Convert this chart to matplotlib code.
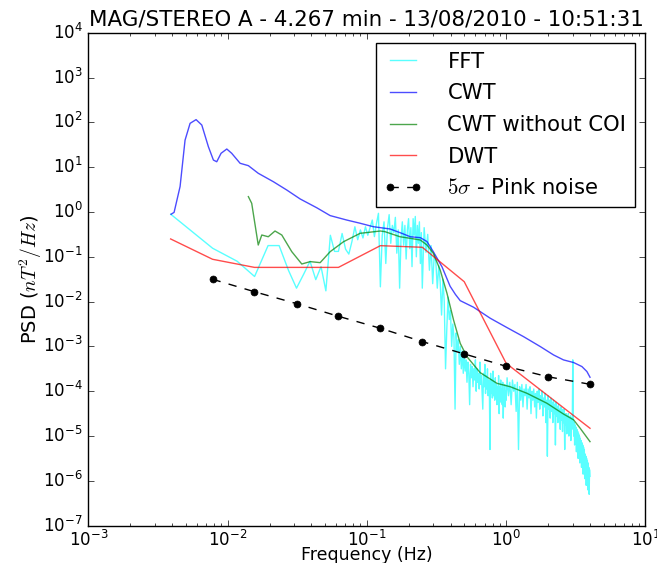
import numpy as np
import matplotlib.pyplot as plt
from matplotlib.ticker import LogLocator, NullLocator

plt.style.use('classic')

# FFT bins, df = 1/256 Hz (4.267 min window at 8 Hz)
bins_a = np.arange(1, 65)
bins_b = np.arange(66, 257, 2)
bins_c = np.arange(260, 1024, 6)

# log10 of the FFT PSD for each bin group
fft_log_a = [-0.05, -0.81, -1.10, -1.44, -0.75, -0.75, -1.30, -1.70,
             -1.39, -1.10, -1.51, -1.22, -1.76, -0.52, -0.88, -0.88,
             -0.48, -0.83, -0.94, -0.66, -0.33, -0.62, -0.40, -0.58,
             -0.33, -0.52, -0.35, -0.18, -0.55, -0.26, -0.03, -1.67,
             -0.52, -0.22, -1.15, -0.35, -0.06, -0.70, -0.30, -0.46,
             -0.12, -0.92, -0.40, -1.70, -0.60, -0.22, -0.74, -0.30,
             -1.05, -0.40, -0.15, -0.82, -0.35, -1.22, -0.15, -0.52,
             -0.10, -1.00, -0.30, -0.70, -0.22, -1.15, -0.46, -1.70]
fft_log_b = [-0.35, -0.90, -0.50, -1.30, -0.75, -1.60, -0.95, -1.10,
             -1.70, -1.20, -1.55, -2.30, -1.50, -2.00, -3.50, -2.60,
             -1.90, -2.40, -2.20, -3.00, -2.50, -2.80, -4.40, -2.70,
             -3.10, -2.85, -3.40, -3.00, -3.50, -3.10, -3.60, -3.20,
             -3.55, -3.30, -3.80, -3.35, -3.60, -4.30, -3.40, -3.70,
             -3.45, -3.90, -3.50, -3.75, -3.30, -4.00, -3.50, -3.80,
             -3.60, -3.95, -3.35, -3.85, -3.65, -4.00, -4.40, -3.60,
             -3.90, -3.40, -4.05, -3.65, -3.95, -3.50, -4.10, -3.75,
             -4.00, -5.30, -3.60, -4.05, -3.75, -4.15, -3.55, -4.10,
             -3.80, -4.20, -3.70, -4.15, -3.85, -4.30, -3.90, -4.10,
             -3.65, -4.50, -3.90, -4.20, -3.75, -4.25, -3.95, -4.30,
             -3.80, -4.60, -4.00, -4.20, -3.85, -4.35, -4.00, -4.20]
fft_log_c = [-3.70, -4.10, -3.80, -4.30, -3.75, -4.00, -3.85, -4.45,
             -3.80, -5.30, -3.90, -4.20, -3.85, -4.35, -3.95, -4.10,
             -3.85, -4.40, -3.95, -4.15, -3.90, -4.50, -4.00, -4.20,
             -3.95, -4.35, -4.05, -4.60, -4.00, -4.25, -3.95, -4.40,
             -4.10, -4.30, -4.00, -4.55, -4.15, -4.35, -4.05, -4.70,
             -4.20, -5.45, -4.10, -4.40, -4.20, -4.60, -4.15, -4.45,
             -4.25, -4.70, -4.20, -4.50, -4.30, -5.20, -4.25, -4.55,
             -4.35, -4.70, -4.30, -4.60, -4.40, -4.85, -4.35, -4.65,
             -4.40, -4.90, -4.45, -4.70, -4.40, -5.30, -4.50, -4.75,
             -4.50, -4.95, -4.55, -4.80, -4.50, -5.00, -4.60, -4.85,
             -4.55, -5.10, -4.60, -4.85, -4.70, -3.30, -4.65, -5.00,
             -4.70, -5.20, -4.75, -5.00, -4.80, -5.35, -4.85, -5.10,
             -4.90, -5.50, -4.95, -5.20, -5.00, -5.60, -5.05, -5.35,
             -5.10, -5.70, -5.15, -5.45, -5.20, -5.85, -5.25, -5.55,
             -5.30, -5.95, -5.40, -5.70, -5.45, -6.10, -5.50, -5.80,
             -5.55, -6.20, -5.60, -5.90, -5.70, -6.30, -5.75, -5.90]

cwt_freq = [0.00393, 0.00413, 0.00456, 0.00495, 0.00538, 0.00594, 0.00653,
            0.00728, 0.00791, 0.00836, 0.00898, 0.00987, 0.0107, 0.0123,
            0.0141, 0.0166, 0.0213, 0.0266, 0.0332, 0.0437, 0.0545, 0.0718,
            0.0895, 0.111, 0.147, 0.178, 0.205, 0.242, 0.27, 0.30, 0.346,
            0.396, 0.432, 0.468, 0.583, 0.769, 1.014, 1.334, 1.76, 2.19,
            2.58, 3.05, 3.5, 3.8, 4.0]
cwt_psd = [0.89, 0.98, 3.7, 40, 95, 115, 87, 28.6, 14.4, 13.2, 20.4, 25.4,
           20.4, 12.2, 10.8, 7.3, 4.74, 3.09, 1.95, 1.24, 0.83, 0.66, 0.56,
           0.47, 0.417, 0.334, 0.28, 0.267, 0.219, 0.13, 0.060, 0.022,
           0.0145, 0.0105, 0.0075, 0.00425, 0.00263, 0.00165, 0.00099,
           0.000645, 0.0005, 0.000437, 0.000355, 0.000275, 0.000205]

coi_freq = [0.0141, 0.0149, 0.0166, 0.0176, 0.0196, 0.0219, 0.0245, 0.0289,
            0.0341, 0.0392, 0.0462, 0.0545, 0.068, 0.0895, 0.125, 0.135,
            0.173, 0.205, 0.242, 0.27, 0.30, 0.336, 0.376, 0.419, 0.468,
            0.523, 0.651, 0.859, 1.07, 1.41, 1.96, 2.58, 3.05, 3.4, 4.0]
coi_psd = [2.2, 1.56, 0.183, 0.306, 0.28, 0.376, 0.306, 0.13, 0.069, 0.078,
           0.074, 0.13, 0.217, 0.334, 0.376, 0.363, 0.28, 0.258, 0.237,
           0.183, 0.12, 0.0507, 0.0153, 0.0039, 0.00117, 0.00059, 0.00026,
           0.00015, 0.000126, 0.00009, 0.000054, 0.000031, 0.000023,
           0.0000149, 0.0000075]

dwt_freq = [0.0039, 0.0078, 0.0156, 0.0313, 0.0625, 0.125, 0.25, 0.5, 1.0,
            2.0, 4.0]
dwt_psd = [0.25, 0.088, 0.058, 0.058, 0.058, 0.177, 0.163, 0.0278, 0.00042,
           0.000079, 0.0000149]

pink_freq = [0.0078, 0.0156, 0.0313, 0.0625, 0.125, 0.25, 0.5, 1.0, 2.0, 4.0]
pink_psd = [0.0315, 0.0166, 0.009, 0.0047, 0.00254, 0.00128, 0.00068,
            0.00036, 0.00021, 0.000143]

fft_freq = np.concatenate([bins_a, bins_b, bins_c]) / 256.0
fft_psd = 10.0 ** np.array(fft_log_a + fft_log_b + fft_log_c)

fig = plt.figure(figsize=(6.57, 5.63), dpi=100, facecolor='white')
ax = fig.add_axes([0.1344, 0.0663, 0.848, 0.8756])

ax.loglog(fft_freq, fft_psd, color='cyan', alpha=0.65, lw=1, label='FFT')
ax.loglog(cwt_freq, cwt_psd, color='b', alpha=0.7, lw=1, label='CWT')
ax.loglog(coi_freq, coi_psd, color='g', alpha=0.7, lw=1, label='CWT without COI')
ax.loglog(dwt_freq, dwt_psd, color='r', alpha=0.7, lw=1, label='DWT')
ax.loglog(pink_freq, pink_psd, 'k--o', markersize=5, lw=1,
          label=r'$5\sigma$ - Pink noise')

ax.set_xlim(1e-3, 1e1)
ax.set_ylim(1e-7, 1e4)
ax.yaxis.set_major_locator(LogLocator(base=10, numticks=20))
ax.yaxis.set_minor_locator(NullLocator())
ax.tick_params(labelsize=12)
ax.tick_params(axis='x', pad=3)

ax.set_title('MAG/STEREO A - 4.267 min - 13/08/2010 - 10:51:31',
             fontsize=15.4, pad=5)
ax.set_xlabel('Frequency (Hz)', fontsize=12.5, labelpad=-3)
ax.set_ylabel(r'PSD ($nT^2/Hz$)', fontsize=14, labelpad=-1)

ax.legend(loc='upper right', fontsize=15.2, numpoints=2, labelspacing=0.55,
          handlelength=1.8, handletextpad=1.2, borderaxespad=0.5)

fig.savefig('out.png', dpi=100, facecolor='white')
